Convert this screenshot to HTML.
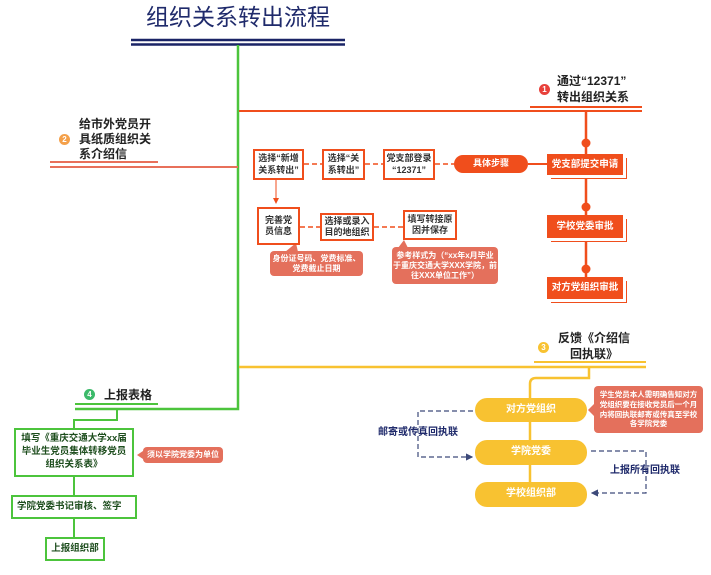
<!DOCTYPE html>
<html><head><meta charset="utf-8"><style>
body{margin:0;width:711px;height:575px;background:#fff;position:relative;overflow:hidden;font-family:"Liberation Sans","Noto Sans CJK SC",sans-serif;}
.a{position:absolute;display:flex;align-items:center;justify-content:center;text-align:center;font-weight:bold;box-sizing:border-box;line-height:1.25;}
.ob{border:2px solid #f04e1c;background:#fff;color:#333;font-size:9px;}
.of{background:#f04e1c;color:#fff;font-size:9.5px;box-shadow:3px 3px 0 #fff,4px 4px 0 #f04e1c;}
.cal{background:#e4705c;color:#fff;font-size:8px;border-radius:4px;}
.yp{background:#f8c231;color:#fff;font-size:10px;border-radius:12px;}
.gb{border:2px solid #4cc43c;background:#fff;color:#1d4d1d;font-size:9.5px;}
.h{position:absolute;font-weight:bold;font-size:12px;color:#222;line-height:16px;}
.ic{position:absolute;width:11px;height:11px;border-radius:50%;color:#fff;font-size:8px;font-weight:bold;text-align:center;line-height:11px;}
</style></head><body>
<svg width="711" height="575" style="position:absolute;left:0;top:0">
<defs><marker id="ar" markerWidth="6" markerHeight="6" refX="5" refY="3" orient="auto"><path d="M0,0 L6,3 L0,6z" fill="#3d4a7a"/></marker>
<marker id="ar2" markerWidth="6" markerHeight="6" refX="5" refY="3" orient="auto"><path d="M0,0 L6,3 L0,6z" fill="#f04e1c"/></marker></defs>
<line x1="131" y1="40" x2="345" y2="40" stroke="#1a2466" stroke-width="2.5"/>
<line x1="131" y1="44.5" x2="345" y2="44.5" stroke="#1a2466" stroke-width="2.5"/>
<polyline points="238,45 238,409 75,409" fill="none" stroke="#4cc43c" stroke-width="2.5"/>
<line x1="75" y1="404" x2="158" y2="404" stroke="#4cc43c" stroke-width="2"/>
<polyline points="117,409 117,420 74,420 74,428" fill="none" stroke="#4cc43c" stroke-width="2"/>
<line x1="74" y1="477" x2="74" y2="495" stroke="#4cc43c" stroke-width="2"/>
<line x1="74" y1="519" x2="74" y2="537" stroke="#4cc43c" stroke-width="2"/>
<line x1="50" y1="162" x2="158" y2="162" stroke="#e8705a" stroke-width="2"/>
<line x1="50" y1="167" x2="238" y2="167" stroke="#e8705a" stroke-width="2"/>
<line x1="239" y1="111" x2="642" y2="111" stroke="#f04e1c" stroke-width="2"/>
<line x1="530" y1="107" x2="642" y2="107" stroke="#f04e1c" stroke-width="2"/>
<line x1="586" y1="111" x2="586" y2="288" stroke="#f04e1c" stroke-width="2.5"/>
<circle cx="586" cy="143" r="4.5" fill="#f04e1c"/>
<circle cx="586" cy="207" r="4.5" fill="#f04e1c"/>
<circle cx="586" cy="269" r="4.5" fill="#f04e1c"/>
<line x1="528" y1="164" x2="547" y2="164" stroke="#f04e1c" stroke-width="2"/>
<g stroke="#f04e1c" stroke-width="1.5" stroke-dasharray="5,3">
<line x1="304" y1="164" x2="322" y2="164"/><line x1="365" y1="164" x2="383" y2="164"/><line x1="435" y1="164" x2="455" y2="164"/>
<line x1="300" y1="227" x2="320" y2="227"/><line x1="374" y1="227" x2="403" y2="227"/></g>
<line x1="276" y1="180" x2="276" y2="203" stroke="#f04e1c" stroke-width="1" marker-end="url(#ar2)"/>
<line x1="239" y1="367" x2="646" y2="367" stroke="#f8c231" stroke-width="2.5"/>
<line x1="534" y1="362" x2="646" y2="362" stroke="#f8c231" stroke-width="2"/>
<path d="M589,367 L589,378 L536,378 Q530,378 530,384 L530,500" fill="none" stroke="#f8c231" stroke-width="2.5"/>
<polyline points="473,411 418,411 418,457 472,457" fill="none" stroke="#3d4a7a" stroke-width="1.2" stroke-dasharray="5,3" marker-end="url(#ar)"/>
<polyline points="591,451 646,451 646,493 592,493" fill="none" stroke="#3d4a7a" stroke-width="1.2" stroke-dasharray="5,3" marker-end="url(#ar)"/>
<path d="M395,252 L404,240 L410,252z" fill="#e4705c"/>
<path d="M285,252 L296,243 L298,252z" fill="#e4705c"/>
<path d="M594,404 L588,410 L594,416z" fill="#e4705c"/>
<path d="M143,451 L137,455 L143,459z" fill="#e4705c"/>
</svg>
<div style="position:absolute;left:128px;top:3px;width:220px;text-align:center;font-size:23px;color:#1f2a6b;line-height:28px">组织关系转出流程</div>
<div class="ic" style="left:539px;top:84px;background:#e8403a">1</div>
<div class="h" style="left:557px;top:73px">通过“12371”<br>转出组织关系</div>
<div class="ic" style="left:59px;top:134px;background:#f4a04a">2</div>
<div class="h" style="left:79px;top:117px;line-height:15px">给市外党员开<br>具纸质组织关<br>系介绍信</div>
<div class="a ob" style="left:253px;top:149px;width:51px;height:31px">选择“新增<br>关系转出”</div>
<div class="a ob" style="left:322px;top:149px;width:43px;height:31px">选择“关<br>系转出”</div>
<div class="a ob" style="left:383px;top:149px;width:52px;height:31px">党支部登录<br>“12371”</div>
<div class="a" style="left:454px;top:155px;width:74px;height:18px;background:#f04e1c;color:#fff;font-size:9px;border-radius:9px">具体步骤</div>
<div class="a of" style="left:547px;top:154px;width:76px;height:21px">党支部提交申请</div>
<div class="a of" style="left:547px;top:215px;width:76px;height:23px">学校党委审批</div>
<div class="a of" style="left:547px;top:277px;width:76px;height:22px">对方党组织审批</div>
<div class="a ob" style="left:257px;top:207px;width:43px;height:38px">完善党<br>员信息</div>
<div class="a ob" style="left:320px;top:213px;width:54px;height:28px">选择或录入<br>目的地组织</div>
<div class="a ob" style="left:403px;top:210px;width:54px;height:30px">填写转接原<br>因并保存</div>
<div class="a cal" style="left:270px;top:251px;width:93px;height:25px">身份证号码、党费标准、<br>党费截止日期</div>
<div class="a cal" style="left:392px;top:247px;width:106px;height:37px">参考样式为（“xx年x月毕业<br>于重庆交通大学XXX学院，前<br>往XXX单位工作”）</div>
<div class="ic" style="left:538px;top:342px;background:#f8c231">3</div>
<div class="h" style="left:558px;top:330px;text-align:center">反馈《介绍信<br>回执联》</div>
<div class="a yp" style="left:475px;top:398px;width:112px;height:24px">对方党组织</div>
<div class="a yp" style="left:475px;top:440px;width:112px;height:25px">学院党委</div>
<div class="a yp" style="left:475px;top:482px;width:112px;height:25px">学校组织部</div>
<div class="a cal" style="left:594px;top:386px;width:109px;height:47px;font-size:7.5px;line-height:1.3">学生党员本人需明确告知对方<br>党组织要在接收党员后一个月<br>内将回执联邮寄或传真至学校<br>各学院党委</div>
<div class="a" style="left:372px;top:425px;width:92px;height:16px;color:#1f2a6b;font-size:10px">邮寄或传真回执联</div>
<div class="a" style="left:604px;top:463px;width:82px;height:16px;color:#1f2a6b;font-size:10px">上报所有回执联</div>
<div class="ic" style="left:84px;top:389px;background:#3cba6a">4</div>
<div class="h" style="left:104px;top:387px">上报表格</div>
<div class="a gb" style="left:14px;top:428px;width:120px;height:49px;line-height:1.35">填写《重庆交通大学xx届<br>毕业生党员集体转移党员<br>组织关系表》</div>
<div class="a cal" style="left:143px;top:447px;width:80px;height:16px">须以学院党委为单位</div>
<div class="a gb" style="left:11px;top:495px;width:126px;height:24px;justify-content:flex-start;padding-left:4px">学院党委书记审核、签字</div>
<div class="a gb" style="left:45px;top:537px;width:60px;height:24px">上报组织部</div>
</body></html>
